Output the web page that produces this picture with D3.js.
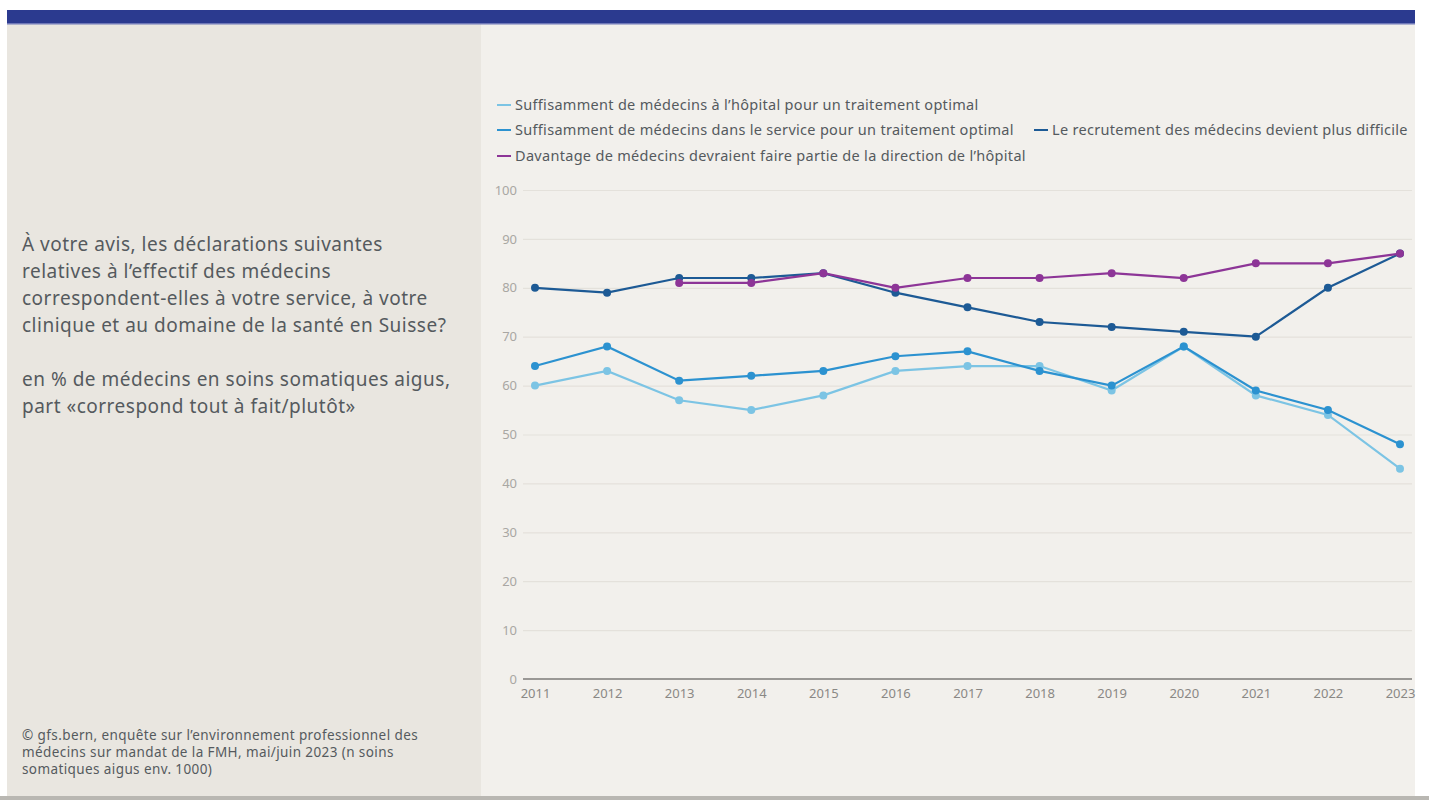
<!DOCTYPE html>
<html>
<head>
<meta charset="utf-8">
<script src="https://cdn.jsdelivr.net/npm/d3@7"></script>
<style>
  body { margin: 0; background: #fff; font-family: "Noto Sans", sans-serif; }
</style>
</head>
<body>
<svg class="chart" width="1429" height="800"></svg>
<script>
// data
var years = [2011, 2012, 2013, 2014, 2015, 2016, 2017, 2018, 2019, 2020, 2021, 2022, 2023];
var hopital = [60, 63, 57, 55, 58, 63, 64, 64, 59, 68, 58, 54, 43];
var service = [64, 68, 61, 62, 63, 66, 67, 63, 60, 68, 59, 55, 48];
var recrutement = [80, 79, 82, 82, 83, 79, 76, 73, 72, 71, 70, 80, 87];
var direction = [null, null, 81, 81, 83, 80, 82, 82, 83, 82, 85, 85, 87];
var yTicks = [0, 10, 20, 30, 40, 50, 60, 70, 80, 90, 100];
var seriesNames = [
  "Suffisamment de médecins à l\u2019hôpital pour un traitement optimal",
  "Suffisamment de médecins dans le service pour un traitement optimal",
  "Le recrutement des médecins devient plus difficile",
  "Davantage de médecins devraient faire partie de la direction de l\u2019hôpital"
];
var colors = ["#7cc4e4", "#2c92d0", "#1d5a95", "#8d3597"];

var series = [hopital, service, recrutement, direction].map(function(v, i) {
  return { name: seriesNames[i], color: colors[i], values: v };
});

var svg = d3.select(".chart");

// panels
svg.append("rect").attr("x", 7).attr("y", 24).attr("width", 474).attr("height", 772).attr("fill", "#e9e6e0");
svg.append("rect").attr("x", 481).attr("y", 24).attr("width", 934).attr("height", 772).attr("fill", "#f2f0ec");
svg.append("rect").attr("x", 7).attr("y", 10).attr("width", 1408).attr("height", 14).attr("fill", "#2b3a8f");
svg.append("rect").attr("x", 7).attr("y", 23).attr("width", 1408).attr("height", 1.5).attr("fill", "#6f78b8");
svg.append("rect").attr("x", 0).attr("y", 796).attr("width", 1429).attr("height", 4).attr("fill", "#b9b7b2");

// left text
var question = [
  "À votre avis, les déclarations suivantes",
  "relatives à l\u2019effectif des médecins",
  "correspondent-elles à votre service, à votre",
  "clinique et au domaine de la santé en Suisse?"
];
var sub = ["en % de médecins en soins somatiques aigus,", "part «correspond tout à fait/plutôt»"];
var source = [
  "© gfs.bern, enquête sur l\u2019environnement professionnel des",
  "médecins sur mandat de la FMH, mai/juin 2023 (n soins",
  "somatiques aigus env. 1000)"
];

var left = svg.append("g").attr("fill", "#555a5e");
left.selectAll(".q").data(question).enter().append("text")
  .attr("x", 22).attr("y", function(d, i) { return 251 + i * 27; })
  .style("font-size", "19px").style("letter-spacing", "0.5px").text(function(d) { return d; });
left.selectAll(".s").data(sub).enter().append("text")
  .attr("x", 22).attr("y", function(d, i) { return 386 + i * 27; })
  .style("font-size", "19px").style("letter-spacing", "0.5px").text(function(d) { return d; });
left.selectAll(".src").data(source).enter().append("text")
  .attr("x", 22).attr("y", function(d, i) { return 740 + i * 17; })
  .style("font-size", "13.5px").style("letter-spacing", "0.4px").text(function(d) { return d; });

// scales
var x = d3.scalePoint().domain(years).range([535, 1400]);
var y = d3.scaleLinear().domain([0, 100]).range([679, 190]);

// grid
var grid = svg.append("g").attr("transform", "translate(523,0)")
  .call(d3.axisLeft(y).tickValues(yTicks).tickSize(-889).tickPadding(6));
grid.select(".domain").remove();
grid.selectAll(".tick line").attr("stroke", "#e4e1db").attr("stroke-width", 1.2);
grid.selectAll(".tick text").attr("fill", "#a9a7a3").style("font-size", "13px").style("font-family", "Noto Sans");
grid.selectAll(".tick").filter(function(d) { return d === 0; }).select("line").remove();
svg.append("line").attr("x1", 523).attr("x2", 1412).attr("y1", y(0)).attr("y2", y(0))
  .attr("stroke", "#9a9895").attr("stroke-width", 2);

// x axis
var xa = svg.append("g").attr("transform", "translate(0," + y(0) + ")")
  .call(d3.axisBottom(x).tickSize(0).tickPadding(10).tickFormat(d3.format("d")));
xa.select(".domain").remove();
xa.selectAll(".tick text").attr("fill", "#8a8885").style("font-size", "13px")
  .style("font-family", "Noto Sans");

// lines
var line = d3.line()
  .defined(function(d) { return d != null; })
  .x(function(d, i) { return x(years[i]); })
  .y(function(d) { return y(d); });

series.forEach(function(s) {
  svg.append("path").datum(s.values)
    .attr("fill", "none").attr("stroke", s.color).attr("stroke-width", 2.2)
    .attr("d", line);
  svg.append("g").selectAll("circle")
    .data(s.values.map(function(v, i) { return { v: v, yr: years[i] }; }).filter(function(d) { return d.v != null; }))
    .enter().append("circle")
    .attr("cx", function(d) { return x(d.yr); })
    .attr("cy", function(d) { return y(d.v); })
    .attr("r", 4).attr("fill", s.color);
});

// legend
var legendPos = [[497, 105], [497, 130], [1034, 130], [497, 156]];
var legend = svg.append("g");
series.forEach(function(s, i) {
  var p = legendPos[i];
  legend.append("line").attr("x1", p[0]).attr("x2", p[0] + 14).attr("y1", p[1]).attr("y2", p[1])
    .attr("stroke", s.color).attr("stroke-width", 2);
  legend.append("text").attr("x", p[0] + 18).attr("y", p[1] + 5)
    .attr("fill", "#555a5e").style("font-size", "14.5px").style("letter-spacing", "0.3px").text(s.name);
});
</script>
</body>
</html>
